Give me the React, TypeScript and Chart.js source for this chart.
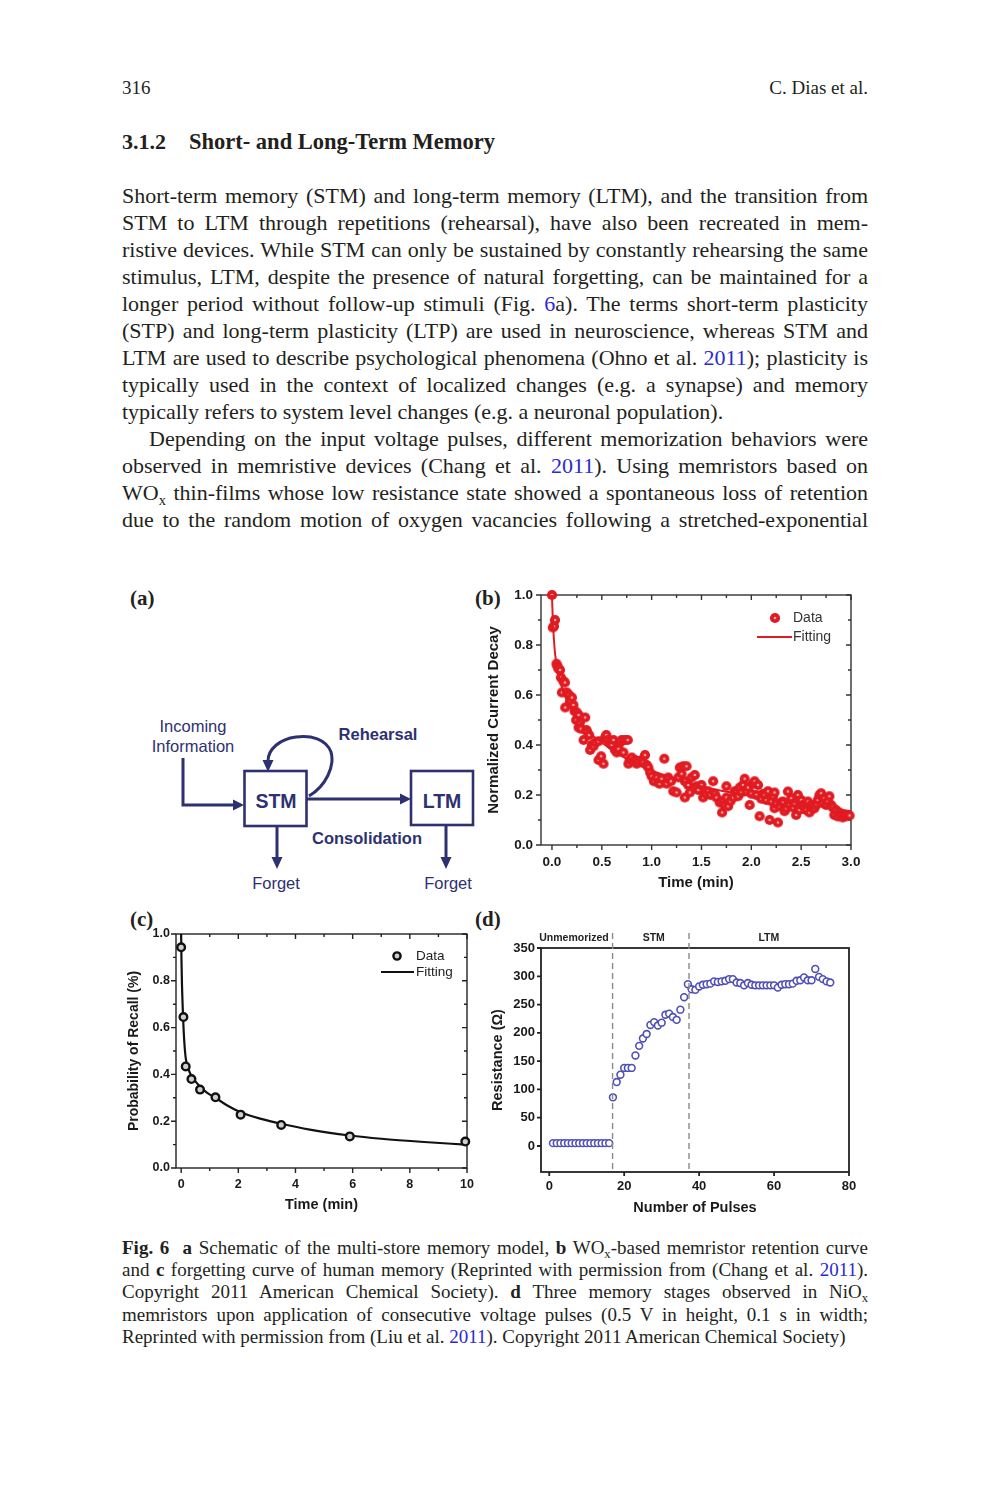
import React, { useEffect, useRef } from "react";
import { Chart, registerables } from "chart.js";

Chart.register(...registerables);

// ================= Panel (b): WOx retention =================
const bTime = [
  0.0, 0.008, 0.02, 0.03, 0.045, 0.055, 0.065, 0.08, 0.09, 0.1, 0.115, 0.13, 0.133, 0.15, 0.17, 0.18, 0.2,
  0.215, 0.227, 0.243, 0.25, 0.267, 0.267, 0.28, 0.29, 0.317, 0.333, 0.345, 0.35, 0.373, 0.383, 0.4, 0.417,
  0.433, 0.467, 0.467, 0.493, 0.517, 0.533, 0.545, 0.56, 0.583, 0.6, 0.617, 0.633, 0.65, 0.667, 0.683, 0.7,
  0.717, 0.733, 0.76, 0.767, 0.78, 0.8, 0.833, 0.85, 0.867, 0.9, 0.917, 0.933, 0.95, 0.967, 0.985, 1.0,
  1.023, 1.05, 1.067, 1.08, 1.1, 1.127, 1.15, 1.167, 1.193, 1.217, 1.25, 1.267, 1.283, 1.3, 1.317, 1.333,
  1.333, 1.35, 1.367, 1.383, 1.4, 1.433, 1.45, 1.467, 1.5, 1.517, 1.54, 1.567, 1.59, 1.617, 1.633, 1.65,
  1.683, 1.707, 1.717, 1.733, 1.75, 1.75, 1.767, 1.79, 1.817, 1.833, 1.85, 1.867, 1.883, 1.9, 1.917, 1.933,
  1.95, 1.967, 1.983, 2.0, 2.017, 2.033, 2.05, 2.067, 2.083, 2.1, 2.117, 2.133, 2.15, 2.167, 2.183, 2.2,
  2.217, 2.233, 2.233, 2.25, 2.267, 2.283, 2.3, 2.317, 2.333, 2.35, 2.367, 2.383, 2.4, 2.417, 2.433, 2.45,
  2.467, 2.483, 2.5, 2.517, 2.533, 2.55, 2.567, 2.583, 2.6, 2.617, 2.633, 2.65, 2.667, 2.683, 2.7, 2.717,
  2.733, 2.75, 2.767, 2.783, 2.8, 2.817, 2.833, 2.85, 2.867, 2.883, 2.9, 2.917, 2.933, 2.95, 2.967, 2.985,
];
const bCurrent = [
  1.0, 0.87, 0.875, 0.9, 0.725, 0.715, 0.705, 0.7, 0.67, 0.61, 0.655, 0.65, 0.55, 0.61, 0.6, 0.575, 0.59,
  0.56, 0.535, 0.5, 0.53, 0.52, 0.47, 0.49, 0.465, 0.42, 0.51, 0.46, 0.455, 0.44, 0.38, 0.4, 0.395,
  0.41, 0.415, 0.34, 0.355, 0.325, 0.43, 0.44, 0.42, 0.41, 0.4, 0.42, 0.38, 0.37, 0.385, 0.41, 0.42,
  0.37, 0.42, 0.42, 0.325, 0.34, 0.35, 0.34, 0.325, 0.335, 0.34, 0.33, 0.36, 0.32, 0.31, 0.29, 0.275,
  0.255, 0.27, 0.25, 0.245, 0.265, 0.345, 0.245, 0.27, 0.255, 0.215, 0.21, 0.27, 0.31, 0.285, 0.315, 0.255,
  0.19, 0.315, 0.24, 0.21, 0.27, 0.28, 0.235, 0.22, 0.24, 0.19, 0.205, 0.215, 0.2, 0.255, 0.205, 0.19,
  0.17, 0.13, 0.175, 0.16, 0.19, 0.235, 0.155, 0.175, 0.19, 0.215, 0.21, 0.195, 0.23, 0.21, 0.24, 0.265,
  0.215, 0.23, 0.16, 0.205, 0.245, 0.255, 0.2, 0.24, 0.115, 0.185, 0.205, 0.2, 0.18, 0.215, 0.1, 0.175,
  0.195, 0.21, 0.147, 0.165, 0.09, 0.155, 0.17, 0.174, 0.135, 0.147, 0.214, 0.16, 0.187, 0.15, 0.167, 0.12,
  0.2, 0.14, 0.18, 0.16, 0.15, 0.14, 0.174, 0.13, 0.16, 0.145, 0.147, 0.16, 0.18, 0.2, 0.207, 0.17,
  0.187, 0.16, 0.174, 0.195, 0.16, 0.15, 0.12, 0.14, 0.114, 0.13, 0.12, 0.11, 0.12, 0.115, 0.12, 0.118,
];
const bFitTime = [0, 0.005, 0.01, 0.02, 0.03, 0.05, 0.08, 0.12, 0.17, 0.23, 0.3, 0.4, 0.5, 0.6, 0.75, 0.9, 1.05, 1.2, 1.4, 1.6, 1.8, 2.0, 2.2, 2.4, 2.6, 2.8, 3.0];
const bFitCurrent = [1.0, 0.94, 0.89, 0.82, 0.77, 0.71, 0.655, 0.61, 0.56, 0.52, 0.48, 0.44, 0.41, 0.38, 0.345, 0.315, 0.29, 0.27, 0.245, 0.225, 0.21, 0.198, 0.185, 0.172, 0.16, 0.148, 0.135];
const bXTicks = [0, 0.5, 1, 1.5, 2, 2.5, 3];
const bXMinor = [0.25, 0.75, 1.25, 1.75, 2.25, 2.75];
const bYTicks = [0, 0.2, 0.4, 0.6, 0.8, 1.0];
const bYMinor = [0.1, 0.3, 0.5, 0.7, 0.9];

// ================= Panel (c): forgetting curve =================
const cTime = [0, 0.08, 0.16, 0.36, 0.66, 1.2, 2.08, 3.5, 5.9, 9.94];
const cRecall = [0.943, 0.645, 0.434, 0.38, 0.335, 0.302, 0.228, 0.184, 0.135, 0.113];
const cFitTime = [0, 0.01, 0.03, 0.06, 0.1, 0.16, 0.25, 0.36, 0.5, 0.66, 0.9, 1.2, 1.6, 2.08, 2.8, 3.5, 4.5, 5.9, 7, 8.5, 9.94];
const cFitRecall = [1.0, 0.9, 0.78, 0.67, 0.56, 0.47, 0.425, 0.394, 0.37, 0.348, 0.322, 0.3, 0.268, 0.238, 0.21, 0.189, 0.164, 0.139, 0.125, 0.111, 0.1];
const cXTicks = [0, 2, 4, 6, 8, 10];
const cXMinor = [1, 3, 5, 7, 9];
const cYTicks = [0, 0.2, 0.4, 0.6, 0.8, 1.0];
const cYMinor = [0.1, 0.3, 0.5, 0.7, 0.9];

// ================= Panel (d): NiOx memory stages =================
const dPulse = [
  1, 2, 3, 4, 5, 6, 7, 8, 9, 10, 11, 12, 13, 14, 15, 16, 17, 18, 19, 20, 21, 22, 23, 24, 25,
  26, 27, 28, 29, 30, 31, 32, 33, 34, 35, 36, 37, 38, 39, 40, 41, 42, 43, 44, 45, 46, 47, 48, 49, 50,
  51, 52, 53, 54, 55, 56, 57, 58, 59, 60, 61, 62, 63, 64, 65, 66, 67, 68, 69, 70, 71, 72, 73, 74, 75,
];
const dResistance = [
  5, 5, 5, 5, 5, 5, 5, 5, 5, 5, 5, 5, 5, 5, 5, 5, 86, 113, 126, 138, 138, 138, 160, 177, 190,
  198, 214, 219, 213, 218, 232, 234, 228, 223, 241, 263, 286, 277, 276, 282, 285, 286, 287, 291, 290, 291, 292, 295, 295, 289,
  288, 284, 288, 285, 284, 284, 284, 284, 284, 284, 280, 285, 286, 286, 287, 292, 293, 298, 293, 293, 313, 299, 295, 291, 289,
];
const dXTicks = [0, 20, 40, 60, 80];
const dYTicks = [0, 50, 100, 150, 200, 250, 300, 350];
const dStageBounds = [16.9, 37.3];
const dStageNames = ["Unmemorized", "STM", "LTM"];
const dStageCenters = [6.6, 27.9, 58.6];

// ================= styling =================
const ink = "#231f20";
const linkColor = "#2a2ad0";
const navy = "#2e3171";
const red = "#e11b22";
const blue = "#4f4fb6";
const serif = "'Liberation Serif', 'Times New Roman', Times, serif";
const sans = "'Liberation Sans', Arial, Helvetica, sans-serif";

let ballCache: HTMLCanvasElement | null = null;
function getBall(): HTMLCanvasElement {
  if (ballCache) return ballCache;
  const c = document.createElement("canvas");
  c.width = 12;
  c.height = 12;
  const g = c.getContext("2d")!;
  g.beginPath();
  g.arc(6, 6, 5.1, 0, Math.PI * 2);
  g.fillStyle = red;
  g.fill();
  g.beginPath();
  g.arc(6, 6, 1.3, 0, Math.PI * 2);
  g.fillStyle = "#f4aaa3";
  g.fill();
  ballCache = c;
  return c;
}

const frameTicksPlugin = {
  id: "frameTicks",
  beforeDatasetsDraw(chart: any, _args: any, o: any) {
    const { ctx, chartArea: a } = chart;
    const xs = chart.scales.x;
    const ys = chart.scales.y;
    ctx.save();
    ctx.strokeStyle = o.color;
    ctx.lineWidth = o.lineWidth;
    ctx.beginPath();
    const seg = (x1: number, y1: number, x2: number, y2: number) => {
      ctx.moveTo(x1, y1);
      ctx.lineTo(x2, y2);
    };
    const doX = (vals: number[], len: number) => {
      (vals || []).forEach((v) => {
        const p = xs.getPixelForValue(v);
        seg(p, a.bottom, p, a.bottom + len);
        if (o.mirror) seg(p, a.top, p, a.top + len);
      });
    };
    const doY = (vals: number[], len: number) => {
      (vals || []).forEach((v) => {
        const p = ys.getPixelForValue(v);
        seg(a.left - len, p, a.left, p);
        if (o.mirror) seg(a.right - len, p, a.right, p);
      });
    };
    doX(o.xMajor, o.major);
    doX(o.xMinor, o.minor);
    doY(o.yMajor, o.major);
    doY(o.yMinor, o.minor);
    ctx.stroke();
    ctx.strokeRect(a.left, a.top, a.right - a.left, a.bottom - a.top);
    ctx.restore();
  },
};

const insetLegendPlugin = {
  id: "insetLegend",
  afterDatasetsDraw(chart: any, _args: any, o: any) {
    if (!o || !o.items) return;
    const { ctx, chartArea: a } = chart;
    ctx.save();
    ctx.font = o.font;
    ctx.fillStyle = o.color;
    ctx.textBaseline = "middle";
    ctx.textAlign = "left";
    o.items.forEach((it: any) => {
      const y = a.top + it.dy;
      if (it.kind === "ball") {
        const b = getBall();
        ctx.drawImage(b, a.left + it.dx - b.width / 2, y - b.height / 2);
      } else if (it.kind === "ring") {
        ctx.beginPath();
        ctx.arc(a.left + it.dx, y, 3.6, 0, Math.PI * 2);
        ctx.fillStyle = "#cfcfcf";
        ctx.fill();
        ctx.lineWidth = 2.4;
        ctx.strokeStyle = "#111";
        ctx.stroke();
      } else if (it.kind === "line") {
        ctx.beginPath();
        ctx.moveTo(a.left + it.dx, y);
        ctx.lineTo(a.left + it.dx2, y);
        ctx.lineWidth = 2.2;
        ctx.strokeStyle = it.stroke;
        ctx.stroke();
      }
      ctx.fillStyle = o.color;
      ctx.fillText(it.text, a.left + it.tx, y + 0.5);
    });
    ctx.restore();
  },
};

const stagePlugin = {
  id: "stages",
  afterDatasetsDraw(chart: any, _args: any, o: any) {
    if (!o || !o.bounds) return;
    const { ctx, chartArea: a } = chart;
    const xs = chart.scales.x;
    ctx.save();
    ctx.strokeStyle = "#8a8a8a";
    ctx.lineWidth = 1.4;
    ctx.setLineDash([6, 4]);
    o.bounds.forEach((v: number) => {
      const p = xs.getPixelForValue(v);
      ctx.beginPath();
      ctx.moveTo(p, o.lineTop);
      ctx.lineTo(p, a.bottom);
      ctx.stroke();
    });
    ctx.setLineDash([]);
    ctx.fillStyle = "#222";
    ctx.font = "bold 10.5px " + sans;
    ctx.textAlign = "center";
    ctx.textBaseline = "middle";
    o.names.forEach((n: string, i: number) => {
      ctx.fillText(n, xs.getPixelForValue(o.centers[i]), o.labelY);
    });
    ctx.restore();
  },
};

function axisFont(size: number, bold = false) {
  return { family: sans, size, weight: bold ? "bold" : "normal" };
}

function configB(): any {
  return {
    type: "scatter",
    data: {
      datasets: [
        {
          label: "Fitting",
          data: bFitTime.map((t, i) => ({ x: t, y: bFitCurrent[i] })),
          showLine: true,
          borderColor: red,
          borderWidth: 2,
          pointRadius: 0,
          cubicInterpolationMode: "monotone",
          order: 0,
        },
        {
          label: "Data",
          data: bTime.map((t, i) => ({ x: t, y: bCurrent[i] })),
          pointStyle: getBall(),
          pointRadius: 5,
          order: 1,
          clip: false,
        },
      ],
    },
    options: {
      responsive: false,
      animation: false,
      events: [],
      layout: { padding: { top: 20, right: 29, left: 0, bottom: 0 } },
      plugins: {
        legend: { display: false },
        tooltip: { enabled: false },
        frameTicks: { xMajor: bXTicks, xMinor: bXMinor, yMajor: bYTicks, yMinor: bYMinor, mirror: true, major: 5, minor: 3, lineWidth: 1.4, color: "#333" },
        insetLegend: {
          font: "14px " + sans,
          color: "#333",
          items: [
            { kind: "ball", dx: 234, dy: 23, tx: 252, text: "Data" },
            { kind: "line", dx: 216, dx2: 251, dy: 42, tx: 252, text: "Fitting", stroke: red },
          ],
        },
      },
      scales: {
        x: {
          type: "linear",
          min: -0.11,
          max: 3.0,
          grid: { display: false, drawTicks: false },
          border: { display: false },
          afterBuildTicks: (s: any) => { s.ticks = bXTicks.map((v) => ({ value: v })); },
          afterFit: (s: any) => { s.height = 60; },
          ticks: { padding: 9, color: "#1a1a1a", font: axisFont(13.5, true), maxRotation: 0, autoSkip: false, callback: (v: any) => Number(v).toFixed(1) },
          title: { display: true, text: "Time (min)", color: "#1a1a1a", font: axisFont(15, true), padding: { top: 0, bottom: 13 } },
        },
        y: {
          type: "linear",
          min: 0,
          max: 1.0,
          grid: { display: false, drawTicks: false },
          border: { display: false },
          afterBuildTicks: (s: any) => { s.ticks = bYTicks.map((v) => ({ value: v })); },
          afterFit: (s: any) => { s.width = 61; },
          ticks: { padding: 8, color: "#1a1a1a", font: axisFont(13.5, true), autoSkip: false, callback: (v: any) => Number(v).toFixed(1) },
          title: { display: true, text: "Normalized Current Decay", color: "#1a1a1a", font: axisFont(15, true), padding: { top: 5, bottom: 0 } },
        },
      },
    },
    plugins: [frameTicksPlugin, insetLegendPlugin],
  };
}

function configC(): any {
  return {
    type: "scatter",
    data: {
      datasets: [
        {
          label: "Data",
          data: cTime.map((t, i) => ({ x: t, y: cRecall[i] })),
          pointStyle: "circle",
          pointRadius: 3.8,
          borderWidth: 2.4,
          borderColor: "#111",
          backgroundColor: "#cfcfcf",
          order: 0,
          clip: false,
        },
        {
          label: "Fitting",
          data: cFitTime.map((t, i) => ({ x: t, y: cFitRecall[i] })),
          showLine: true,
          borderColor: "#111",
          borderWidth: 2.2,
          pointRadius: 0,
          cubicInterpolationMode: "monotone",
          order: 1,
        },
      ],
    },
    options: {
      responsive: false,
      animation: false,
      events: [],
      layout: { padding: { top: 29, right: 23, left: 0, bottom: 0 } },
      plugins: {
        legend: { display: false },
        tooltip: { enabled: false },
        frameTicks: { xMajor: cXTicks, xMinor: cXMinor, yMajor: cYTicks, yMinor: cYMinor, mirror: true, major: 5, minor: 3, lineWidth: 1.4, color: "#222" },
        insetLegend: {
          font: "13.5px " + sans,
          color: "#222",
          items: [
            { kind: "ring", dx: 221, dy: 22, tx: 240, text: "Data" },
            { kind: "line", dx: 205, dx2: 238, dy: 38, tx: 240, text: "Fitting", stroke: "#111" },
          ],
        },
      },
      scales: {
        x: {
          type: "linear",
          min: -0.18,
          max: 10,
          grid: { display: false, drawTicks: false },
          border: { display: false },
          afterBuildTicks: (s: any) => { s.ticks = cXTicks.map((v) => ({ value: v })); },
          afterFit: (s: any) => { s.height = 57; },
          ticks: { padding: 9, color: "#1a1a1a", font: axisFont(12.5, true), maxRotation: 0, autoSkip: false, callback: (v: any) => String(v) },
          title: { display: true, text: "Time (min)", color: "#1a1a1a", font: axisFont(14.5, true), padding: { top: 0, bottom: 11 } },
        },
        y: {
          type: "linear",
          min: 0,
          max: 1.0,
          grid: { display: false, drawTicks: false },
          border: { display: false },
          afterBuildTicks: (s: any) => { s.ticks = cYTicks.map((v) => ({ value: v })); },
          afterFit: (s: any) => { s.width = 56; },
          ticks: { padding: 6, color: "#1a1a1a", font: axisFont(12.5, true), autoSkip: false, callback: (v: any) => Number(v).toFixed(1) },
          title: { display: true, text: "Probability of Recall (%)", color: "#1a1a1a", font: axisFont(14, true), padding: { top: 5.6, bottom: 0 } },
        },
      },
    },
    plugins: [frameTicksPlugin, insetLegendPlugin],
  };
}

function configD(): any {
  return {
    type: "scatter",
    data: {
      datasets: [
        {
          label: "Resistance",
          data: dPulse.map((p, i) => ({ x: p, y: dResistance[i] })),
          pointStyle: "circle",
          pointRadius: 3.4,
          borderWidth: 1.6,
          borderColor: blue,
          backgroundColor: "#ffffff",
          clip: false,
        },
      ],
    },
    options: {
      responsive: false,
      animation: false,
      events: [],
      layout: { padding: { top: 43, right: 21, left: 0, bottom: 0 } },
      plugins: {
        legend: { display: false },
        tooltip: { enabled: false },
        frameTicks: { xMajor: dXTicks, xMinor: [], yMajor: dYTicks, yMinor: [], mirror: false, major: 4, minor: 0, lineWidth: 1.8, color: "#222" },
        stages: { bounds: dStageBounds, names: dStageNames, centers: dStageCenters, lineTop: 28, labelY: 33 },
      },
      scales: {
        x: {
          type: "linear",
          min: -2.2,
          max: 80,
          grid: { display: false, drawTicks: false },
          border: { display: false },
          afterBuildTicks: (s: any) => { s.ticks = dXTicks.map((v) => ({ value: v })); },
          afterFit: (s: any) => { s.height = 53; },
          ticks: { padding: 7, color: "#1a1a1a", font: axisFont(13, true), maxRotation: 0, autoSkip: false, callback: (v: any) => String(v) },
          title: { display: true, text: "Number of Pulses", color: "#1a1a1a", font: axisFont(14.5, true), padding: { top: 0, bottom: 8.3 } },
        },
        y: {
          type: "linear",
          min: -46,
          max: 350,
          grid: { display: false, drawTicks: false },
          border: { display: false },
          afterBuildTicks: (s: any) => { s.ticks = dYTicks.map((v) => ({ value: v })); },
          afterFit: (s: any) => { s.width = 61; },
          ticks: { padding: 6, color: "#1a1a1a", font: axisFont(13, true), autoSkip: false, callback: (v: any) => String(v) },
          title: { display: true, text: "Resistance (\u03a9)", color: "#1a1a1a", font: axisFont(14.5, true), padding: { top: 9.3, bottom: 0 } },
        },
      },
    },
    plugins: [frameTicksPlugin, stagePlugin],
  };
}

function ChartBox({ make, left, top, width, height }: { make: () => any; left: number; top: number; width: number; height: number }) {
  const ref = useRef<HTMLCanvasElement | null>(null);
  useEffect(() => {
    if (!ref.current) return;
    const chart = new Chart(ref.current, make());
    return () => chart.destroy();
  }, []);
  return <canvas ref={ref} width={width} height={height} style={{ position: "absolute", left, top, width, height }} />;
}

function TL({ y, left = 122, width = 746, size = 22, lh = 27, k = 14.7, justify = true, bold = false, align, children }: any) {
  const a = align || (justify ? "justify" : "left");
  return (
    <div
      style={{
        position: "absolute",
        left,
        top: y - k,
        width,
        height: lh,
        lineHeight: lh + "px",
        fontSize: size,
        fontFamily: serif,
        color: ink,
        fontWeight: bold ? "bold" : "normal",
        textAlign: a,
        textAlignLast: a,
        whiteSpace: "normal",
      }}
    >
      {children}
    </div>
  );
}
const Lk = ({ children }: any) => <span style={{ color: linkColor }}>{children}</span>;
const Sub = ({ children }: any) => <span style={{ fontSize: "0.66em", position: "relative", top: "0.32em" }}>{children}</span>;
const B = ({ children }: any) => <b>{children}</b>;

function PanelLabel({ x, y, text }: { x: number; y: number; text: string }) {
  return (
    <div style={{ position: "absolute", left: x, top: y - 13, fontFamily: serif, fontWeight: "bold", fontSize: 21, lineHeight: "26px", color: ink }}>
      {text}
    </div>
  );
}

function Schematic() {
  const sw = 3;
  return (
    <svg style={{ position: "absolute", left: 120, top: 640 }} width={360} height={260} viewBox="120 640 360 260">
      <g stroke={navy} fill="none" strokeWidth={sw}>
        <polyline points="183,758 183,805 236,805" />
        <rect x={244.5} y={771} width={62} height={55} strokeWidth={2.6} />
        <rect x={411} y={771} width={62} height={54} strokeWidth={2.6} />
        <path d="M 309 796 C 326 786, 335 766, 331 752 C 326 739, 311 735, 296 737 C 280 739, 268 749, 268 761" />
        <line x1={307} y1={799} x2={402} y2={799} />
        <line x1={277} y1={826} x2={277} y2={858} />
        <line x1={446} y1={825} x2={446} y2={858} />
      </g>
      <g fill={navy} stroke="none">
        <polygon points="244,805 233,799.5 233,810.5" />
        <polygon points="268,772 262.5,760 273.5,760" />
        <polygon points="411,799 400,793.5 400,804.5" />
        <polygon points="277,869 271.5,857 282.5,857" />
        <polygon points="446,869 440.5,857 451.5,857" />
      </g>
      <g fill={navy} fontFamily={sans} textAnchor="middle" dominantBaseline="central">
        <text x={193} y={726} fontSize={16.5}>Incoming</text>
        <text x={193} y={746} fontSize={16.5}>Information</text>
        <text x={378} y={734} fontSize={16.5} fontWeight="bold">Rehearsal</text>
        <text x={276} y={801} fontSize={19.5} fontWeight="bold">STM</text>
        <text x={442} y={801} fontSize={19.5} fontWeight="bold">LTM</text>
        <text x={367} y={838} fontSize={16.5} fontWeight="bold">Consolidation</text>
        <text x={276} y={883} fontSize={16.5}>Forget</text>
        <text x={448} y={883} fontSize={16.5}>Forget</text>
      </g>
    </svg>
  );
}

export default function App() {
  const cap = { size: 19, lh: 22, k: 12 };
  return (
    <div style={{ position: "absolute", left: 0, top: 0, width: 989, height: 1500, background: "#fff", overflow: "hidden" }}>
      {/* running head */}
      <TL y={89} size={19} justify={false}>316</TL>
      <TL y={89} size={19} left={568} width={300} align="right">C. Dias et al.</TL>

      {/* section heading */}
      <TL y={143} size={22} bold justify={false}>3.1.2</TL>
      <TL y={143} size={22.5} left={189} width={600} bold justify={false}>Short- and Long-Term Memory</TL>

      {/* body text */}
      <TL y={197}>Short-term memory (STM) and long-term memory (LTM), and the transition from</TL>
      <TL y={224}>STM to LTM through repetitions (rehearsal), have also been recreated in mem-</TL>
      <TL y={251}>ristive devices. While STM can only be sustained by constantly rehearsing the same</TL>
      <TL y={278}>stimulus, LTM, despite the presence of natural forgetting, can be maintained for a</TL>
      <TL y={305}>longer period without follow-up stimuli (Fig. <Lk>6</Lk>a). The terms short-term plasticity</TL>
      <TL y={332}>(STP) and long-term plasticity (LTP) are used in neuroscience, whereas STM and</TL>
      <TL y={359}>LTM are used to describe psychological phenomena (Ohno et al. <Lk>2011</Lk>); plasticity is</TL>
      <TL y={386}>typically used in the context of localized changes (e.g. a synapse) and memory</TL>
      <TL y={413} justify={false}>typically refers to system level changes (e.g. a neuronal population).</TL>
      <TL y={440} left={149} width={719}>Depending on the input voltage pulses, different memorization behaviors were</TL>
      <TL y={467}>observed in memristive devices (Chang et al. <Lk>2011</Lk>). Using memristors based on</TL>
      <TL y={494}>WO<Sub>x</Sub> thin-films whose low resistance state showed a spontaneous loss of retention</TL>
      <TL y={521}>due to the random motion of oxygen vacancies following a stretched-exponential</TL>

      {/* figure panels */}
      <PanelLabel x={130} y={598} text="(a)" />
      <PanelLabel x={475} y={598} text="(b)" />
      <PanelLabel x={130} y={919} text="(c)" />
      <PanelLabel x={475} y={919} text="(d)" />
      <Schematic />
      <ChartBox make={configB} left={480} top={575} width={400} height={330} />
      <ChartBox make={configC} left={120} top={905} width={370} height={320} />
      <ChartBox make={configD} left={480} top={905} width={390} height={320} />

      {/* caption */}
      <TL y={1249} {...cap}>
        <B>Fig. 6</B>{"\u00a0\u00a0"}<B>a</B> Schematic of the multi-store memory model, <B>b</B> WO<Sub>x</Sub>-based memristor retention curve
      </TL>
      <TL y={1271} {...cap}>
        and <B>c</B> forgetting curve of human memory (Reprinted with permission from (Chang et al. <Lk>2011</Lk>).
      </TL>
      <TL y={1293} {...cap}>
        Copyright 2011 American Chemical Society). <B>d</B> Three memory stages observed in NiO<Sub>x</Sub>
      </TL>
      <TL y={1316} {...cap}>
        memristors upon application of consecutive voltage pulses (0.5 V in height, 0.1 s in width;
      </TL>
      <TL y={1338} {...cap} justify={false}>
        Reprinted with permission from (Liu et al. <Lk>2011</Lk>). Copyright 2011 American Chemical Society)
      </TL>
    </div>
  );
}
